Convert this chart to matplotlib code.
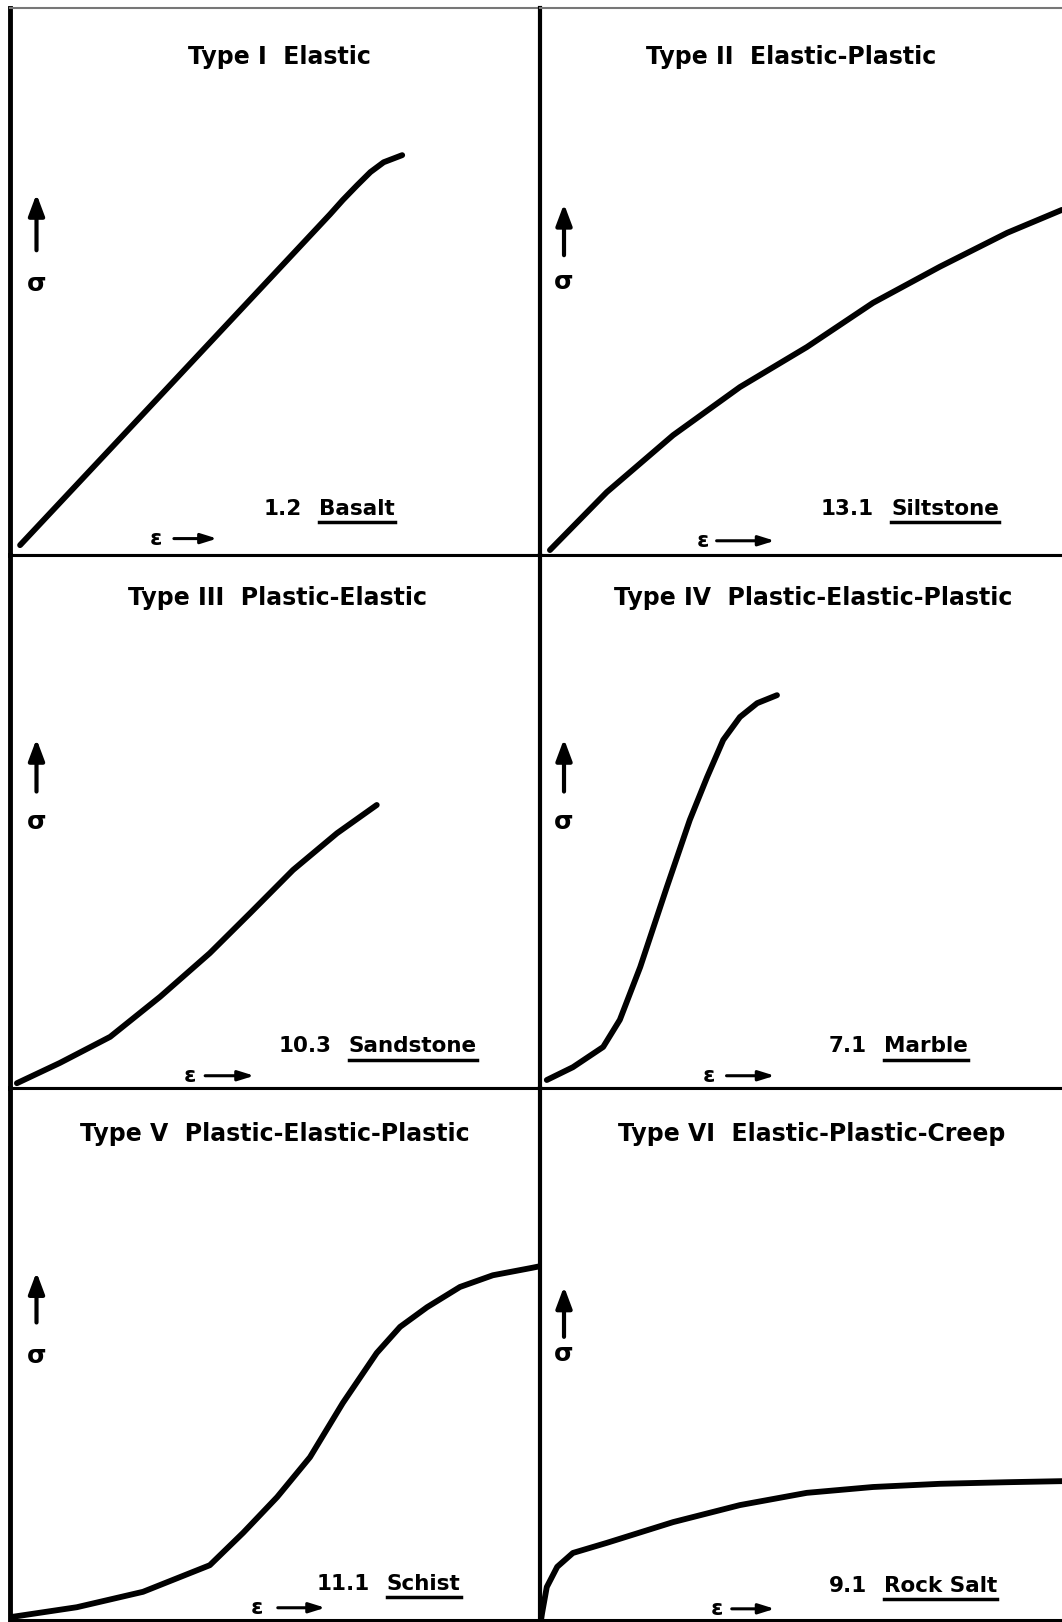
import matplotlib.pyplot as plt

# Stress-strain curve types (strain and stress in % of the panel range)
titles = ['Type I  Elastic', 'Type II  Elastic-Plastic',
          'Type III  Plastic-Elastic', 'Type IV  Plastic-Elastic-Plastic',
          'Type V  Plastic-Elastic-Plastic', 'Type VI  Elastic-Plastic-Creep']
sample_no = ['1.2', '13.1', '10.3', '7.1', '11.1', '9.1']
rock = ['Basalt', 'Siltstone', 'Sandstone', 'Marble', 'Schist', 'Rock Salt']

basalt_x = [1.9, 28.9, 60.4, 62.8, 65.5, 68.0, 70.5, 74.0]
basalt_y = [1.8, 29.7, 62.3, 64.9, 67.6, 70.0, 71.8, 73.1]

siltstone_x = [1.9, 12.8, 25.5, 38.3, 51.1, 63.8, 76.6, 89.5, 100]
siltstone_y = [0.9, 11.5, 21.9, 30.7, 38.0, 46.1, 52.7, 58.9, 63.1]

sandstone_x = [1.3, 9.4, 18.9, 28.3, 37.7, 45.3, 53.4, 61.7, 69.2]
sandstone_y = [0.9, 4.7, 9.6, 17.1, 25.3, 32.8, 40.9, 47.8, 53.1]

marble_x = [1.3, 6.3, 12.1, 15.3, 19.2, 24.3, 28.7, 32.0, 35.1, 38.3, 41.6, 45.4]
marble_y = [1.5, 3.9, 7.7, 12.8, 22.7, 37.7, 50.3, 58.3, 65.3, 69.6, 72.2, 73.7]

schist_x = [0.5, 12.6, 25.1, 37.7, 44.0, 50.4, 56.6, 62.8, 69.2, 73.6, 78.7,
            84.9, 91.1, 98.5, 100]
schist_y = [0.6, 2.4, 5.3, 10.3, 16.4, 23.1, 30.6, 40.8, 50.2, 55.1, 58.8,
            62.6, 64.8, 66.2, 66.5]

rocksalt_x = [0.2, 0.4, 1.3, 3.3, 6.3, 12.8, 25.5, 38.3, 51.1, 63.8, 76.6,
              89.5, 100]
rocksalt_y = [0.0, 1.3, 6.2, 10.0, 12.6, 14.5, 18.4, 21.6, 23.9, 25.0, 25.6,
              25.9, 26.1]

curves = [(basalt_x, basalt_y), (siltstone_x, siltstone_y),
          (sandstone_x, sandstone_y), (marble_x, marble_y),
          (schist_x, schist_y), (rocksalt_x, rocksalt_y)]

# layout (axes fractions) for each panel
title_pos = [(0.509, 0.911), (0.481, 0.911), (0.505, 0.920),
             (0.523, 0.920), (0.499, 0.913), (0.521, 0.913)]
name_pos = [(0.583, 0.085), (0.673, 0.085), (0.639, 0.078),
            (0.659, 0.078), (0.711, 0.068), (0.659, 0.064)]
sigma_pos = [(0.050, 0.552, 0.665, 0.495), (0.046, 0.543, 0.647, 0.499),
             (0.050, 0.551, 0.660, 0.499), (0.046, 0.551, 0.660, 0.499),
             (0.050, 0.554, 0.659, 0.496), (0.046, 0.527, 0.632, 0.500)]
eps_pos = [(0.275, 0.304, 0.396, 0.030), (0.313, 0.333, 0.455, 0.026),
           (0.339, 0.363, 0.466, 0.023), (0.323, 0.352, 0.455, 0.023),
           (0.466, 0.500, 0.600, 0.023), (0.339, 0.362, 0.455, 0.021)]

W, H = 1062, 1622
fig = plt.figure(figsize=(W / 100, H / 100), dpi=100)
fig.patch.set_facecolor('white')

col_x = [10 / W, 540 / W, 1.0]
row_y = [1 - 8 / H, 1 - 555 / H, 1 - 1088 / H, 1 - 1620 / H]

axes = []
for i in range(6):
    r, c = divmod(i, 2)
    ax = fig.add_axes([col_x[c], row_y[r + 1], col_x[c + 1] - col_x[c],
                       row_y[r] - row_y[r + 1]])
    ax.set_xlim(0, 100)
    ax.set_ylim(0, 100)
    ax.set_xticks([])
    ax.set_yticks([])
    for s in ax.spines.values():
        s.set_color('black')
        s.set_linewidth(2.2)
    ax.spines['left'].set_linewidth(3.5 if c == 0 else 3.0)
    if c == 1:
        ax.spines['right'].set_visible(False)
    if r == 0:
        ax.spines['top'].set_color('#777777')
        ax.spines['top'].set_linewidth(1.5)
        ax.spines['top'].set_linestyle((0, (2, 1)))

    x, y = curves[i]
    ax.plot(x, y, color='black', lw=4.2, solid_capstyle='round',
            solid_joinstyle='round', clip_on=False)

    tx, ty = title_pos[i]
    ax.text(tx, ty, titles[i], transform=ax.transAxes, ha='center', va='center',
            fontsize=17, fontweight='bold')

    nx, ny = name_pos[i]
    ax.text(nx - 0.033, ny, sample_no[i], transform=ax.transAxes, ha='right',
            va='center', fontsize=15.5, fontweight='bold')
    name_txt = ax.text(nx, ny, rock[i], transform=ax.transAxes, ha='left',
                       va='center', fontsize=15.5, fontweight='bold')

    # stress axis arrow and sigma
    sx, s0, s1, sy = sigma_pos[i]
    ax.annotate('', xy=(sx, s1), xytext=(sx, s0), xycoords='axes fraction',
                arrowprops=dict(arrowstyle='-|>,head_length=0.8,head_width=0.3',
                                color='black', lw=3, mutation_scale=16))
    ax.text(sx, sy, 'σ', transform=ax.transAxes, ha='center',
            va='center', fontsize=18, fontweight='bold')

    # strain axis arrow and epsilon
    ex, e0, e1, ey = eps_pos[i]
    ax.text(ex, ey, 'ε', transform=ax.transAxes, ha='center',
            va='center', fontsize=16, fontweight='bold')
    ax.annotate('', xy=(e1, ey), xytext=(e0, ey), xycoords='axes fraction',
                arrowprops=dict(arrowstyle='-|>,head_length=0.8,head_width=0.25',
                                color='black', lw=2.2, mutation_scale=12))
    axes.append((ax, name_txt))

# underline the rock names
fig.canvas.draw()
renderer = fig.canvas.get_renderer()
for ax, txt in axes:
    bb = txt.get_window_extent(renderer).transformed(ax.transAxes.inverted())
    yl = bb.y0 - 0.006
    ax.plot([bb.x0, bb.x1], [yl, yl], transform=ax.transAxes, color='black',
            lw=2.5, clip_on=False)

fig.savefig('out.png', dpi=100, facecolor='white')
